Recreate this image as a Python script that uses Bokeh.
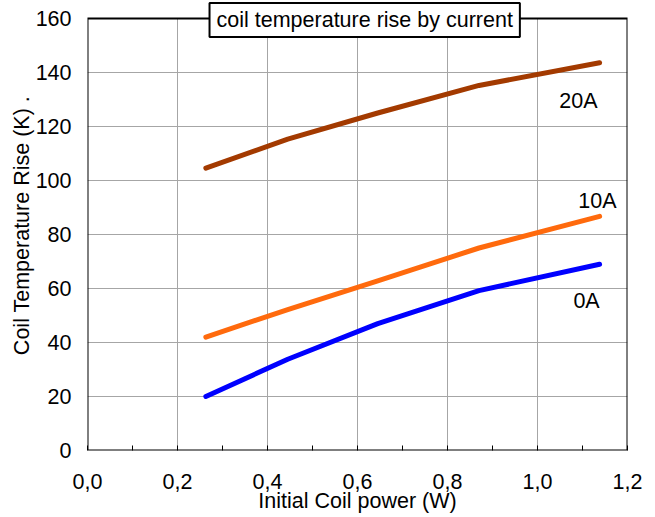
from bokeh.plotting import figure
from bokeh.models import Label, FixedTicker, CustomJSTickFormatter
from bokeh.embed import file_html
from bokeh.resources import INLINE

# Coil temperature rise vs. initial coil power, one curve per current
power = [0.263, 0.445, 0.645, 0.870, 1.138]
rise_0a = [20.0, 33.8, 47.0, 59.2, 69.0]
rise_10a = [42.0, 52.2, 62.8, 75.0, 86.7]
rise_20a = [104.6, 115.3, 125.0, 135.2, 143.6]

x_ticks = [0.0, 0.2, 0.4, 0.6, 0.8, 1.0, 1.2]
x_minor = [0.1, 0.3, 0.5, 0.7, 0.9, 1.1]
y_ticks = [0, 20, 40, 60, 80, 100, 120, 140, 160]

series = [
    ("0A", rise_0a, "#0000FF", 1.109, 55.4),
    ("10A", rise_10a, "#FF6A0D", 1.133, 92.4),
    ("20A", rise_20a, "#A33A00", 1.091, 129.4),
]

X_MAX = 1.2
Y_MAX = 160
FONT = "Liberation Sans"
FS = "21.5px"

# the frame reaches the top of the canvas so the boxed title can sit
# across the top edge of the plotted area
p = figure(width=655, height=517, output_backend="svg", toolbar_location=None,
           x_range=(0, X_MAX), y_range=(0, Y_MAX * 450 / 432),
           min_border_left=87, min_border_right=28,
           min_border_top=0, min_border_bottom=67)

p.background_fill_color = "white"
p.border_fill_color = "white"
p.outline_line_color = None

# axes
p.xaxis.ticker = FixedTicker(ticks=x_ticks, minor_ticks=x_minor)
p.yaxis.ticker = FixedTicker(ticks=y_ticks)
p.xaxis.formatter = CustomJSTickFormatter(code="return tick.toFixed(1).replace('.', ',');")

for ax in (p.xaxis[0], p.yaxis[0]):
    ax.axis_line_color = None
    ax.major_label_text_font = FONT
    ax.major_label_text_font_size = FS
    ax.major_label_text_color = "black"
    ax.axis_label_text_font = FONT
    ax.axis_label_text_font_size = FS
    ax.axis_label_text_font_style = "normal"
    ax.axis_label_text_color = "black"

p.xaxis.major_tick_in = 5
p.xaxis.major_tick_out = 0
p.xaxis.minor_tick_in = 5
p.xaxis.minor_tick_out = 0
p.xaxis.major_tick_line_color = "black"
p.xaxis.minor_tick_line_color = "black"
p.xaxis.major_label_standoff = 23
p.xaxis.axis_label = "Initial Coil power (W)"
p.xaxis.axis_label_standoff = -3

p.yaxis.major_tick_in = 0
p.yaxis.major_tick_out = 0
p.yaxis.minor_tick_line_color = None
p.yaxis.major_label_standoff = 16
p.yaxis.axis_label = "Coil Temperature Rise (K) ."
p.yaxis.axis_label_standoff = -1

# grid: horizontal lines from the axis grid, vertical lines stop at the top edge
p.xgrid.grid_line_color = None
p.ygrid.grid_line_color = "#A6A6A6"
p.ygrid.grid_line_width = 1
inner_x = [t for t in x_ticks if 0 < t < X_MAX]
p.segment(x0=inner_x, y0=[0] * len(inner_x), x1=inner_x, y1=[Y_MAX] * len(inner_x),
          line_color="#A6A6A6", line_width=1)

# plot border
p.line([0, 0, X_MAX, X_MAX, 0], [0, Y_MAX, Y_MAX, 0, 0],
       line_color="black", line_width=2, line_join="miter")

for name, ys, color, lx, ly in series:
    p.line(power, ys, line_color=color, line_width=5, line_cap="round",
           line_join="round")
    p.add_layout(Label(x=lx, y=ly, text=name, text_align="center",
                       text_baseline="middle", text_font=FONT,
                       text_font_size=FS, text_color="black"))

# boxed title straddling the top edge
p.add_layout(Label(x=0.616, y=159.4, text="coil temperature rise by current",
                   text_align="center", text_baseline="middle",
                   text_font=FONT, text_font_size=FS, text_color="black",
                   background_fill_color="white", border_line_color="black",
                   border_line_width=2, padding=(7, 5)))

open("out.html", "w").write(file_html(p, INLINE))
